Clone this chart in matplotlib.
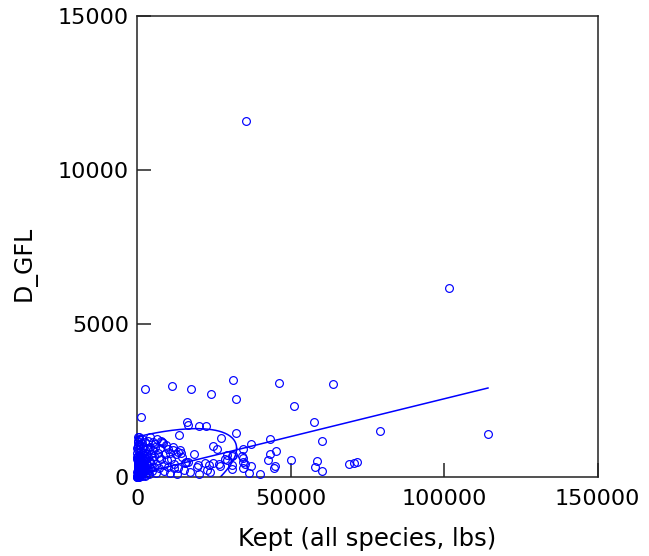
import numpy as np
import matplotlib
matplotlib.use("Agg")
import matplotlib.pyplot as plt

# ---- data ----
kept = [2414, 11319, 17354, 23976, 31315, 32196, 46125, 51018, 57607, 1305,
        16049, 16375, 20224, 22508, 32196, 13439, 27205, 43287, 620, 37154,
        34610, 45244, 43124, 42635, 50039, 58716, 58031, 60314, 44918, 44592,
        39927, 36274, 37089, 34316, 35132, 34381, 63739, 60347, 79267, 114301,
        68959, 70785, 71764, 35459, 101448, 24791, 25900, 18593, 28608, 29163,
        30794, 30989, 34577, 19376, 20029, 26748, 31315, 29358,
        1631, 5774, 8481, 10112, 11743, 13374, 14255, 30794, 34056, 19898,
        22084, 23389, 24791, 22639, 23715, 17191, 26977, 15560, 16636,
        0, 50, 120, 200, 300, 80, 400, 150, 500, 600,
        250, 700, 350, 800, 100, 900, 450, 1000, 60, 1200,
        550, 1300, 200, 1500, 700, 1600, 30, 1800, 900, 2000,
        1100, 2200, 300, 2400, 1400, 2600, 150, 2800, 1700, 3000,
        400, 3200, 2100, 3400, 650, 3600, 2500, 3800, 1900, 4000,
        120, 4300, 2300, 4600, 1000, 4900, 2700, 5200, 3100, 5500,
        850, 1250, 1650, 2050, 2450, 2850, 3300, 3700, 4100, 4500,
        5000, 5400, 5800, 6200, 6600, 7000, 7400, 7800, 8200, 8600,
        9000, 9500, 10000, 10500, 11000, 11500, 12000, 12600, 13200, 13800,
        14500, 15200, 16000, 6000, 7200, 8800, 9800, 10800, 11800, 12800,
        1500, 2600, 3500, 4200, 5100, 600, 6400, 7600,
        20, 40, 90, 130, 180, 220, 260, 310, 360, 420,
        470, 520, 580, 640, 700, 760, 820, 880, 950, 1020,
        1100, 1180, 1260, 1350, 1450, 1550, 1680, 1800, 1950, 2100,
        2250, 2400, 2600, 2800, 30, 70, 110, 160, 240, 330,
        100, 200, 50, 250]
dgfl = [2876, 2983, 2866, 2720, 3175, 2560, 3077, 2323, 1812, 1971,
        1786, 1698, 1685, 1666, 1435, 1376, 1282, 1265, 1265, 1087,
        930, 859, 751, 550, 556, 540, 338, 221, 371, 312,
        111, 153, 355, 511, 420, 296, 3032, 1184, 1500, 1402,
        446, 468, 501, 11604, 6151, 1028, 940, 761, 599, 566,
        403, 257, 621, 348, 111, 446, 729, 729,
        1109, 1077, 1129, 914, 891, 836, 803, 696, 696, 403,
        459, 403, 478, 241, 185, 185, 371, 459, 511,
        0, 20, 60, 10, 90, 150, 30, 250, 120, 200,
        350, 60, 450, 300, 400, 150, 550, 50, 600, 250,
        650, 400, 700, 100, 500, 300, 800, 550, 700, 200,
        850, 450, 900, 80, 650, 350, 1000, 600, 800, 150,
        1100, 450, 700, 250, 300, 650, 900, 100, 1000, 500,
        1200, 300, 550, 750, 1050, 200, 800, 550, 950, 350,
        180, 520, 180, 380, 620, 420, 750, 880, 1000, 450,
        900, 700, 1000, 450, 800, 300, 950, 600, 1150, 400,
        750, 1050, 350, 800, 600, 1000, 450, 750, 300, 900,
        650, 250, 500, 150, 650, 200, 550, 150, 300, 100,
        1250, 1150, 1200, 1300, 1150, 1300, 1250, 1200,
        40, 180, 320, 100, 480, 260, 30, 380, 150, 520,
        80, 300, 420, 20, 250, 560, 130, 380, 60, 450,
        300, 120, 600, 220, 400, 50, 330, 150, 480, 260,
        380, 30, 200, 320, 650, 500, 700, 560, 600, 420,
        1300, 1150, 950, 1050]

# fitted straight line (intercept, slope)
fit_intercept = 102.0
fit_slope = 0.02455

# density ellipse: centre and covariance-like shape matrix
ell_center = [-16785.0, -820.0]
ell_shape = [[2.416e9, 8.665e7], [8.665e7, 5.789e6]]

x_ticks = [0, 50000, 100000, 150000]
y_ticks = [0, 5000, 10000, 15000]

fig = plt.figure(figsize=(6.49, 5.56), dpi=100)
ax = fig.add_axes([137.3/649, 1-477.4/556, (597.5-137.3)/649, (477.4-16.3)/556])
blue = '#0000ff'
ax.plot(kept, dgfl, 'o', ls='none', mfc='none', mec=blue, ms=5.6, mew=0.85,
        clip_on=False, zorder=3)

xl = np.array([0, max(kept)])
ax.plot(xl, fit_intercept + fit_slope * xl, color=blue, lw=1.1, zorder=2)

L = np.linalg.cholesky(np.array(ell_shape))
t = np.linspace(0, 2*np.pi, 400)
pts = np.array(ell_center)[:, None] + L @ np.vstack([np.cos(t), np.sin(t)])
ax.plot(pts[0], pts[1], color=blue, lw=1.1, zorder=2)

ax.set_xlim(0, 150000)
ax.set_ylim(0, 15000)
ax.set_xticks(x_ticks)
ax.set_yticks(y_ticks)
ax.tick_params(direction='in', length=9.8, width=1.1, color='#222222',
               labelsize=16, top=False, right=False, zorder=5)
ax.tick_params(axis='y', pad=6)
ax.tick_params(axis='x', pad=8)
for s in ax.spines.values():
    s.set_color('#222222')
    s.set_linewidth(1.1)
ax.set_xlabel('Kept (all species, lbs)', fontsize=17.5)
ax.xaxis.set_label_coords(0.5, -(539 - 477.4) / 461.1, transform=ax.transAxes)
ax.xaxis.label.set_va('center')
ax.set_ylabel('D_GFL', fontsize=17)
ax.yaxis.set_label_coords(-(137.3 - 25) / 460.2, (477.4 - 263) / 461.1, transform=ax.transAxes)
ax.yaxis.label.set_va('center')
fig.savefig('out.png', dpi=100)
